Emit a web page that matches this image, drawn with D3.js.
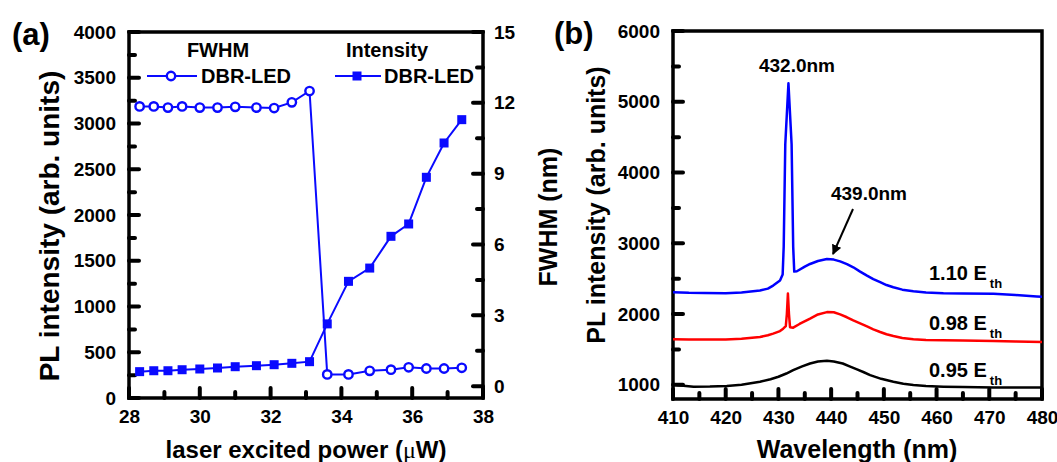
<!DOCTYPE html>
<html>
<head>
<meta charset="utf-8">
<script src="https://cdn.jsdelivr.net/npm/d3@7"></script>
<style>
  body { margin: 0; background: #fff; }
  text { font-family: "Liberation Sans", Arial, sans-serif; font-weight: bold; fill: #000; }
</style>
</head>
<body>
<script>
// ---- panel (a) data: laser power vs PL intensity / FWHM ----
var power = [28.3, 28.7, 29.1, 29.5, 30.0, 30.5, 31.0, 31.6, 32.1, 32.6, 33.1, 33.6, 34.2, 34.8, 35.4, 35.9, 36.4, 36.9, 37.4];
var intensity = [288, 298, 298, 309, 317, 328, 342, 353, 364, 379, 397, 810, 1275, 1420, 1767, 1902, 2412, 2787, 3042];
var fwhm = [11.85, 11.85, 11.8, 11.85, 11.8, 11.8, 11.83, 11.8, 11.78, 12.02, 12.5, 0.5, 0.5, 0.65, 0.7, 0.8, 0.75, 0.75, 0.78];

var powerTicks = [28, 30, 32, 34, 36, 38];
var intensityTicks = [0, 500, 1000, 1500, 2000, 2500, 3000, 3500, 4000];
var fwhmTicks = [0, 3, 6, 9, 12, 15];

// ---- panel (b) data: spectra ----
var wlBlue = [410, 413, 416, 420, 423, 426.5, 428, 429, 430.3, 430.8, 431.0, 431.3, 431.9, 432.5, 432.8, 433.0, 433.5, 435, 436, 437.5, 439.2, 440.5, 441.7, 443, 444.2, 445.5, 446.8, 448, 449.3, 450.5, 451.8, 453.5, 455.6, 458, 461.3, 465, 470.8, 475, 479, 480];
var plBlue = [2309, 2300, 2298, 2295, 2305, 2333, 2360, 2403, 2474, 2560, 2950, 4400, 5260, 4400, 2950, 2600, 2605, 2670, 2708, 2750, 2779, 2770, 2745, 2705, 2661, 2600, 2544, 2495, 2450, 2410, 2380, 2345, 2323, 2305, 2295, 2290, 2287, 2270, 2249, 2245];

var wlRed = [410, 413, 416, 420, 423, 426.5, 428, 429, 430.3, 430.9, 431.4, 431.6, 431.8, 432.0, 432.2, 432.8, 434, 436, 437.5, 439.2, 440.5, 441.7, 443, 444.2, 445.5, 446.8, 448, 449.3, 450.5, 451.8, 453.5, 455.6, 458, 461.3, 465, 470.8, 475, 480];
var plRed = [1644, 1640, 1642, 1640, 1650, 1676, 1700, 1724, 1760, 1794, 1830, 2000, 2290, 2000, 1815, 1808, 1860, 1935, 1995, 2028, 2025, 1995, 1955, 1911, 1870, 1827, 1785, 1747, 1715, 1690, 1662, 1644, 1635, 1630, 1625, 1620, 1612, 1606];

var wlBlack = [410, 411, 413.9, 417, 420.2, 423, 426.5, 428.5, 430, 431.5, 432.8, 434.5, 436, 437.5, 439.2, 440.5, 442.2, 443.5, 444.9, 446.2, 447.4, 449.5, 451.8, 453.7, 455.6, 458, 461.3, 465, 470.8, 475, 480];
var plBlack = [1011, 995, 973, 975, 983, 1000, 1043, 1080, 1114, 1160, 1208, 1260, 1302, 1330, 1339, 1330, 1302, 1262, 1218, 1178, 1138, 1085, 1043, 1015, 997, 982, 973, 968, 964, 964, 964];

var wlTicks = [410, 420, 430, 440, 450, 460, 470, 480];
var plTicksB = [1000, 2000, 3000, 4000, 5000, 6000];

var blue = "#0a0aff";

var svg = d3.select("body").append("svg")
    .attr("width", 1057)
    .attr("height", 462);

function range(a, b, s) { return d3.range(a, b + s / 2, s); }

// labels from d3 axis, inward tick marks drawn from the same scale
// side: "bottom" | "left" | "right"; pos = pixel position of the axis line
function axis(g, side, scale, major, minor, pos, pad) {
    var ax = side == "bottom" ? d3.axisBottom(scale) : side == "left" ? d3.axisLeft(scale) : d3.axisRight(scale);
    var tr = side == "bottom" ? "translate(0," + pos + ")" : "translate(" + pos + ",0)";
    var a = g.append("g").attr("transform", tr)
        .call(ax.tickValues(major).tickSize(0).tickPadding(pad).tickFormat(d3.format("d")));
    a.selectAll(".domain").remove();
    a.selectAll(".tick text").style("font-size", "19px").attr("fill", "#000");

    var dir = side == "right" ? -1 : 1;   // inward direction
    function marks(vals, len) {
        g.selectAll(null).data(vals).enter().append("line")
            .attr("x1", function(d) { return side == "bottom" ? scale(d) : pos; })
            .attr("x2", function(d) { return side == "bottom" ? scale(d) : pos + dir * len; })
            .attr("y1", function(d) { return side == "bottom" ? pos : scale(d); })
            .attr("y2", function(d) { return side == "bottom" ? pos - len : scale(d); })
            .attr("stroke", "#000").attr("stroke-width", 4).attr("stroke-linecap", "round");
    }
    marks(major, 10);
    marks(minor, 6);
}

// ================= panel (a) =================
var xA = d3.scaleLinear().domain([28, 38]).range([129, 483]);
var yA = d3.scaleLinear().domain([0, 4000]).range([398, 32]);
var yA2 = d3.scaleLinear().domain([-0.5, 15]).range([398, 32]);

var gA = svg.append("g");
axis(gA, "bottom", xA, powerTicks, range(29, 37, 2), 398, 12);
axis(gA, "left", yA, intensityTicks, range(250, 3750, 500), 129, 13);
axis(gA, "right", yA2, fwhmTicks, range(1.5, 13.5, 3), 483, 11);

gA.append("rect")
    .attr("x", 129).attr("y", 32)
    .attr("width", 483 - 129).attr("height", 398 - 32)
    .attr("fill", "none").attr("stroke", "#000").attr("stroke-width", 3.5);

var lineI = d3.line().x(function(d, i) { return xA(power[i]); }).y(function(d) { return yA(d); });
var lineF = d3.line().x(function(d, i) { return xA(power[i]); }).y(function(d) { return yA2(d); });

gA.append("path").attr("d", lineI(intensity))
    .attr("fill", "none").attr("stroke", blue).attr("stroke-width", 2);
gA.append("path").attr("d", lineF(fwhm))
    .attr("fill", "none").attr("stroke", blue).attr("stroke-width", 2);

gA.selectAll(".sq").data(intensity).enter().append("rect")
    .attr("x", function(d, i) { return xA(power[i]) - 4.5; })
    .attr("y", function(d) { return yA(d) - 4.5; })
    .attr("width", 9).attr("height", 9)
    .attr("fill", blue);

gA.selectAll(".ci").data(fwhm).enter().append("circle")
    .attr("cx", function(d, i) { return xA(power[i]); })
    .attr("cy", function(d) { return yA2(d); })
    .attr("r", 4.2)
    .attr("fill", "#fff").attr("stroke", blue).attr("stroke-width", 2.4);

// legend
gA.append("text").attr("x", 218).attr("y", 57).attr("text-anchor", "middle").style("font-size", "20px").text("FWHM");
gA.append("text").attr("x", 387).attr("y", 57).attr("text-anchor", "middle").style("font-size", "20px").text("Intensity");
gA.append("line").attr("x1", 147).attr("x2", 197).attr("y1", 76).attr("y2", 76).attr("stroke", blue).attr("stroke-width", 2);
gA.append("circle").attr("cx", 171).attr("cy", 76).attr("r", 4.2).attr("fill", "#fff").attr("stroke", blue).attr("stroke-width", 2.4);
gA.append("text").attr("x", 201).attr("y", 83).style("font-size", "20px").text("DBR-LED");
gA.append("line").attr("x1", 335).attr("x2", 381).attr("y1", 76).attr("y2", 76).attr("stroke", blue).attr("stroke-width", 2);
gA.append("rect").attr("x", 352.5).attr("y", 71.5).attr("width", 9).attr("height", 9).attr("fill", blue);
gA.append("text").attr("x", 384).attr("y", 83).style("font-size", "20px").text("DBR-LED");

// titles
gA.append("text").attr("transform", "translate(59,226) rotate(-90)").attr("text-anchor", "middle")
    .style("font-size", "28px").text("PL intensity (arb. units)");
gA.append("text").attr("transform", "translate(557,217) rotate(-90)").attr("text-anchor", "middle")
    .style("font-size", "25px").text("FWHM (nm)");
var xt = gA.append("text").attr("x", 306).attr("y", 458).attr("text-anchor", "middle").style("font-size", "24px");
xt.append("tspan").text("laser excited power (");
xt.append("tspan").style("font-family", "'Liberation Serif', serif").style("font-weight", "normal").text("\u03bc");
xt.append("tspan").text("W)");
gA.append("text").attr("x", 12).attr("y", 45).style("font-size", "31px").text("(a)");

// ================= panel (b) =================
var xB = d3.scaleLinear().domain([410, 480]).range([673, 1042]);
var yB = d3.scaleLinear().domain([800, 6000]).range([399, 31]);

var gB = svg.append("g");
axis(gB, "bottom", xB, wlTicks, range(415, 475, 10), 399, 12);
axis(gB, "left", yB, plTicksB, range(1500, 5500, 1000), 673, 13);

gB.append("rect")
    .attr("x", 673).attr("y", 31)
    .attr("width", 1042 - 673).attr("height", 399 - 31)
    .attr("fill", "none").attr("stroke", "#000").attr("stroke-width", 3.5);

var spectra = [
    { wl: wlBlack, pl: plBlack, color: "#000" },
    { wl: wlRed, pl: plRed, color: "#ff0000" },
    { wl: wlBlue, pl: plBlue, color: "#0000ff" }
];

spectra.forEach(function(s) {
    var line = d3.line()
        .x(function(d, i) { return xB(s.wl[i]); })
        .y(function(d) { return yB(d); });
    gB.append("path").attr("d", line(s.pl))
        .attr("fill", "none").attr("stroke", s.color).attr("stroke-width", 2.5)
        .attr("stroke-linejoin", "round");
});

// annotations
gB.append("text").attr("x", 797).attr("y", 72).attr("text-anchor", "middle").style("font-size", "19px").text("432.0nm");
gB.append("text").attr("x", 869).attr("y", 200).attr("text-anchor", "middle").style("font-size", "19px").text("439.0nm");

svg.append("defs").append("marker")
    .attr("id", "arr").attr("viewBox", "0 0 10 10")
    .attr("refX", 9).attr("refY", 5)
    .attr("markerWidth", 5).attr("markerHeight", 5)
    .attr("orient", "auto")
    .append("path").attr("d", "M0,0L10,5L0,10z").attr("fill", "#000");
gB.append("line")
    .attr("x1", 853).attr("y1", 209).attr("x2", 833).attr("y2", 254)
    .attr("stroke", "#000").attr("stroke-width", 2).attr("marker-end", "url(#arr)");

var eLabels = [["1.10 E", 280], ["0.98 E", 330], ["0.95 E", 377]];
eLabels.forEach(function(l) {
    var t = gB.append("text").attr("x", 929).attr("y", l[1]).style("font-size", "20px");
    t.append("tspan").text(l[0]);
    t.append("tspan").attr("dy", 8).attr("dx", 3).style("font-size", "13px").text("th");
});

gB.append("text").attr("transform", "translate(605,205) rotate(-90)").attr("text-anchor", "middle")
    .style("font-size", "25px").text("PL intensity (arb. units)");
gB.append("text").attr("x", 857).attr("y", 458).attr("text-anchor", "middle").style("font-size", "25px").text("Wavelength (nm)");
gB.append("text").attr("x", 554).attr("y", 44).style("font-size", "31px").text("(b)");
</script>
</body>
</html>
